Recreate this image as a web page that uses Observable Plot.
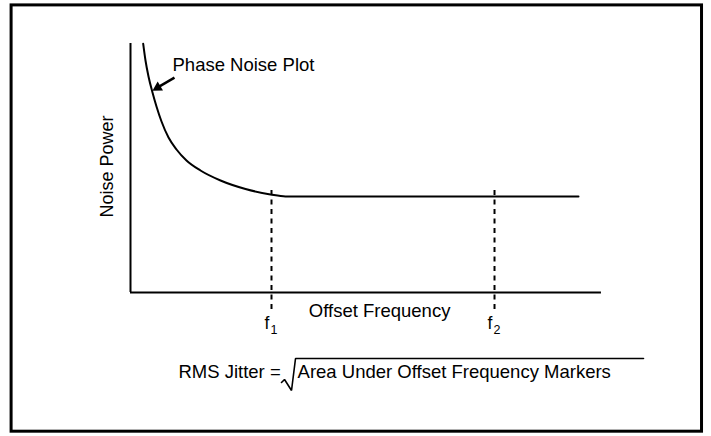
<!DOCTYPE html>
<html><head><meta charset="utf-8">
<script src="https://cdn.jsdelivr.net/npm/d3@7"></script>
<script src="https://cdn.jsdelivr.net/npm/@observablehq/plot@0.6"></script>
<style>body{margin:0;background:#fff;}</style>
</head><body><div id="chart"></div>
<script>
// Phase-noise curve (arbitrary units: offset frequency 0–100, noise power 0–100)
const offsetFrequency = [2.70, 3.19, 3.83, 4.68, 5.53, 6.60, 8.09, 9.79, 11.91, 14.89, 19.15, 24.47, 29.79, 32.98, 95.32];
const noisePower      = [99.88, 93.17, 86.75, 80.32, 74.70, 68.67, 62.25, 57.43, 53.01, 48.99, 44.98, 41.57, 39.36, 38.55, 38.55];
// Integration markers f1, f2
const markerFrequency = [30.0, 77.45];
const markerSubscript = ["1", "2"];
// Text
const curveLabel = "Phase Noise Plot";
const xLabel = "Offset Frequency";
const yLabel = "Noise Power";
const formulaLeft = "RMS Jitter =";
const formulaRadicand = "Area Under Offset Frequency Markers";

const curve = offsetFrequency.map((f, i) => ({f, p: noisePower[i]}));
const markers = markerFrequency.map((f, i) => ({f, sub: markerSubscript[i]}));

const font = "'Liberation Sans', Arial, Helvetica, sans-serif";
const plot = Plot.plot({
  width: 711, height: 436,
  marginLeft: 130, marginRight: 111, marginTop: 43, marginBottom: 144,
  x: {domain: [0, 100], axis: null},
  y: {domain: [0, 100], axis: null},
  style: {fontFamily: font, background: "#fff", color: "#000", overflow: "visible"},
  marks: [
    // outer border
    Plot.rect([0], {x1: -25.3, x2: 121.6, y1: -55.9, y2: 115.3, fill: "none", stroke: "#000", strokeWidth: 3}),
    // axes
    Plot.ruleX([0], {y1: 0, y2: 100, strokeWidth: 2}),
    Plot.ruleY([0], {x1: 0, x2: 100.2, strokeWidth: 2}),
    // dashed markers
    Plot.ruleX(markers, {x: "f", y1: 41, y2: -8.4, strokeWidth: 2, strokeDasharray: "5,4.5"}),
    // curve
    Plot.line(curve, {x: "f", y: "p", curve: "monotone-x", strokeWidth: 2}),
    // arrow
    Plot.link([0], {x1: 9.36, y1: 86.3, x2: 5.9, y2: 82.5, strokeWidth: 2.5}),
    Plot.dot([0], {x: 5.79, y: 82.3, symbol: "triangle", r: 3.9, fill: "#000", stroke: "none", rotate: -120.6}),
    // labels
    Plot.text([curveLabel], {x: 8.94, y: 88.8, text: d => d, fontSize: 18.5, textAnchor: "start", lineAnchor: "bottom"}),
    Plot.text([xLabel], {x: 53, y: -10.0, text: d => d, fontSize: 18.5, textAnchor: "middle", lineAnchor: "bottom"}),
    Plot.text([yLabel], {x: -4.85, y: 50.6, text: d => d, fontSize: 18, rotate: -90, textAnchor: "middle", lineAnchor: "middle"}),
    Plot.text(markers, {x: d => d.f - 1.5, y: -14.7, text: () => "f", fontSize: 17.5, textAnchor: "start", lineAnchor: "bottom"}),
    Plot.text(markers, {x: d => d.f - 0.2, y: -16.5, text: "sub", fontSize: 12.5, textAnchor: "start", lineAnchor: "bottom"}),
    // formula
    Plot.text([formulaLeft], {x: 10.2, y: -34.5, text: d => d, fontSize: 18.5, textAnchor: "start", lineAnchor: "bottom"}),
    Plot.line([[32.13, -36.14], [32.77, -34.94], [34.26, -39.36], [35.11, -26.51], [109.15, -26.51]],
      {x: d => d[0], y: d => d[1], strokeWidth: 1.6, strokeLinejoin: "miter"}),
    Plot.text([formulaRadicand], {x: 35.55, y: -34.5, text: d => d, fontSize: 18.5, textAnchor: "start", lineAnchor: "bottom"})
  ]
});
document.getElementById("chart").appendChild(plot);
</script>
</body></html>
